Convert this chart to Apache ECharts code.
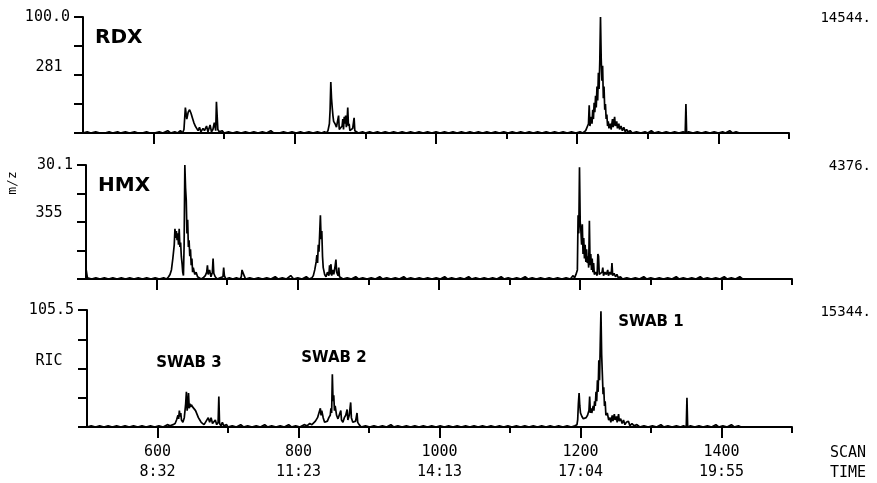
<!DOCTYPE html>
<html>
<head>
<meta charset="utf-8">
<script src="https://cdn.jsdelivr.net/npm/echarts@6/dist/echarts.min.js"></script>
<style>html,body{margin:0;background:#fff}#chart{width:877px;height:483px}</style>
</head>
<body>
<div id="chart"></div>
<script>
// mass chromatograms, [scan, % of full scale]
var rdx = [[500,0],[506,1],[511,0],[518,1],[524,0],[531,0],[537,1],[542,0],[549,1],[553,0],[560,1],[566,0],[573,1],[578,0],[584,0],[590,1],[595,0],[601,0],[608,1],[613,0],[620,2],[624,0],[630,1],[634,0],[638,2],[641,0],
  [643,3],[645,22],[647,12],[649,18],[651,20],[653,17],[655,13],[657,9],[659,6],[661,4],[663,2],[665,5],[667,1],[670,4],[672,2],[675,6],[677,1],[680,7],[682,1],[684,3],[686,9],[688,2],[689,27],[691,3],[693,1],
  [697,2],[700,0],[706,1],[712,0],[718,1],[724,0],[730,1],[736,0],[742,1],[748,0],[754,1],[760,0],[766,2],[770,0],[778,0],[784,1],[790,0],[796,1],[802,0],[808,1],[813,0],[820,1],[826,0],[832,1],[838,0],[842,1],[845,0],
  [847,2],[849,8],[850,20],[851,44],[852,30],[853,22],[854,15],[855,10],[857,8],[859,5],[861,4],[862,15],[863,3],[865,2],[867,6],[868,12],[869,3],[870,14],[871,8],[872,15],[873,5],[874,10],[875,22],[876,6],[877,8],[878,2],[880,1],[882,4],[884,13],[885,2],[887,1],[890,0],
  [896,1],[900,0],[906,1],[911,0],[917,1],[922,0],[928,1],[934,0],[940,1],[946,0],[952,1],[958,0],[964,1],[970,0],[976,1],[982,0],[988,1],[994,0],[1000,1],[1006,0],[1012,1],[1018,0],[1024,1],[1030,0],[1036,1],[1042,0],[1048,1],[1054,0],[1060,1],[1066,0],[1072,1],[1078,0],[1084,1],[1090,0],[1096,1],[1102,0],[1108,1],[1114,0],[1120,1],[1126,0],[1132,1],[1138,0],[1144,1],[1150,0],[1156,1],[1162,0],[1168,1],[1174,0],[1180,1],[1186,0],[1192,1],[1198,0],[1204,1],[1208,0],[1212,2],
  [1214,3],[1216,8],[1217,24],[1218,6],[1219,10],[1220,14],[1221,8],[1222,20],[1223,12],[1224,26],[1225,18],[1226,32],[1227,22],[1228,40],[1229,28],[1230,52],[1231,38],[1232,62],[1233,100],[1234,64],[1235,45],[1236,58],[1237,30],[1238,40],[1239,20],[1240,25],[1241,12],[1242,16],[1243,6],[1244,10],[1245,4],[1247,8],[1248,3],[1250,12],[1251,5],[1253,14],[1254,6],[1256,10],[1257,4],[1259,8],[1260,3],[1262,6],[1264,2],[1266,5],[1268,1],[1270,3],[1272,1],[1275,2],[1278,0],
  [1284,1],[1290,0],[1296,1],[1300,0],[1305,2],[1309,0],[1315,1],[1320,0],[1326,1],[1332,0],[1338,1],[1344,0],[1350,1],[1353,0],[1354,25],[1355,0],[1358,1],[1364,0],[1370,1],[1376,0],[1382,1],[1388,0],[1394,1],[1400,0],[1406,1],[1410,0],[1416,2],[1420,0],[1425,1],[1430,0]];

var hmx = [[500,9],[502,1],[508,0],[514,1],[520,0],[526,1],[532,0],[538,1],[544,0],[550,1],[556,0],[562,1],[568,0],[574,1],[580,0],[586,1],[592,0],[598,1],[604,0],[610,1],[614,0],
  [617,2],[619,4],[621,8],[623,18],[625,30],[626,44],[627,36],[628,42],[629,34],[630,40],[631,30],[632,44],[633,28],[634,32],[635,20],[636,14],[637,6],[638,3],[639,30],[640,100],[641,80],[642,69],[643,40],[644,52],[645,28],[646,34],[647,20],[648,26],[649,12],[650,18],[651,6],[652,10],[654,4],[656,6],[658,2],[660,1],[663,0],
  [666,1],[669,3],[671,6],[672,12],[673,4],[675,8],[677,2],[679,6],[680,18],[681,5],[683,2],[686,0],[690,1],[694,2],[695,10],[696,3],[698,0],[703,1],[708,0],[713,1],[718,0],[720,2],[721,8],[722,6],[724,3],[726,0],[732,1],[738,0],[744,1],[750,0],[756,1],[762,0],[768,2],[772,0],[778,1],[784,0],[790,3],[794,0],[800,1],[806,0],[812,2],[816,0],[820,1],
  [822,3],[824,8],[826,15],[827,21],[828,14],[829,30],[830,24],[831,40],[832,56],[833,35],[834,42],[835,20],[836,10],[838,4],[840,2],[842,6],[844,3],[845,12],[846,4],[847,13],[848,3],[850,8],[851,4],[853,12],[854,17],[855,6],[857,3],[858,10],[859,2],[861,1],[864,0],
  [870,1],[876,0],[882,2],[886,0],[892,1],[898,0],[904,1],[910,0],[916,2],[920,0],[926,1],[932,0],[938,1],[944,0],[950,2],[954,0],[960,1],[966,0],[972,1],[978,0],[984,1],[990,0],[996,1],[1002,0],[1008,2],[1012,0],[1018,1],[1024,0],[1030,1],[1036,0],[1042,2],[1046,0],[1052,1],[1058,0],[1064,1],[1070,0],[1076,1],[1082,0],[1088,2],[1092,0],[1098,1],[1104,0],[1110,1],[1116,0],[1122,2],[1126,0],[1132,1],[1138,0],[1144,1],[1150,0],[1156,1],[1162,0],[1168,1],[1174,0],[1180,1],[1186,0],[1190,3],[1192,1],
  [1194,4],[1196,8],[1197,56],[1198,40],[1199,98],[1200,50],[1201,42],[1202,30],[1203,48],[1204,22],[1205,36],[1206,18],[1207,30],[1208,15],[1209,26],[1210,14],[1211,20],[1212,10],[1213,51],[1214,12],[1215,22],[1216,8],[1217,18],[1218,6],[1219,14],[1220,4],[1222,6],[1224,3],[1225,22],[1226,20],[1227,4],[1229,3],[1231,6],[1232,10],[1233,3],[1235,6],[1237,4],[1239,8],[1240,3],[1242,6],[1244,4],[1245,14],[1246,3],[1248,5],[1250,2],[1252,4],[1254,1],[1257,2],[1260,0],
  [1266,1],[1272,0],[1278,1],[1284,0],[1290,2],[1294,0],[1300,1],[1306,0],[1312,1],[1318,0],[1324,1],[1330,0],[1336,2],[1340,0],[1346,1],[1352,0],[1358,1],[1364,0],[1370,2],[1374,0],[1380,1],[1386,0],[1392,1],[1398,0],[1404,2],[1408,0],[1414,1],[1420,0],[1426,2],[1430,0]];

var ric = [[500,0],[506,1],[512,0],[518,1],[524,0],[530,1],[536,0],[542,1],[548,0],[554,1],[560,0],[566,1],[572,0],[578,1],[584,0],[590,1],[596,0],[602,1],[608,0],[614,2],[618,1],[622,2],[625,3],
  [627,6],[629,10],[630,7],[631,14],[632,9],[633,12],[634,6],[636,4],[638,8],[640,20],[641,30],[642,14],[643,18],[644,29],[645,16],[646,20],[647,17],[648,19],[649,18],[650,17],[652,17],[654,14],[656,11],[658,8],[660,6],[662,4],[664,3],[666,2],[668,4],[670,3],[672,8],[673,9],[674,4],[676,8],[678,3],[680,2],[682,6],[684,2],[686,4],[687,26],[688,3],[690,1],[692,4],[694,1],[698,2],[700,0],
  [706,1],[712,0],[718,2],[722,0],[728,1],[734,0],[740,1],[746,0],[752,2],[756,0],[762,1],[768,0],[774,1],[780,0],[786,2],[790,0],[796,1],[802,0],[808,2],[812,1],[816,3],[819,2],
  [821,3],[824,5],[827,8],[829,12],[831,16],[832,10],[833,14],[835,8],[837,4],[839,3],[841,5],[843,8],[845,10],[846,16],[847,12],[848,45],[849,22],[850,27],[851,14],[852,18],[854,10],[856,7],[858,8],[860,14],[861,6],[863,4],[865,8],[867,10],[869,15],[870,6],[872,10],[874,21],[875,8],[877,4],[879,3],[881,5],[883,12],[884,4],[886,2],[889,0],
  [895,1],[901,0],[907,1],[913,0],[919,1],[925,0],[931,2],[935,0],[941,1],[947,0],[953,1],[959,0],[965,1],[971,0],[977,1],[983,0],[989,1],[995,0],[1001,1],[1007,0],[1013,1],[1019,0],[1025,1],[1031,0],[1037,1],[1043,0],[1049,1],[1055,0],[1061,1],[1067,0],[1073,1],[1079,0],[1085,1],[1091,0],[1097,1],[1103,0],[1109,1],[1115,0],[1121,1],[1127,0],[1133,1],[1139,0],[1145,1],[1151,0],[1157,1],[1163,0],[1169,1],[1175,0],[1181,1],[1187,0],[1192,1],[1195,2],
  [1196,6],[1197,20],[1198,29],[1199,18],[1200,12],[1202,9],[1204,7],[1206,6],[1208,8],[1210,10],[1212,14],[1213,26],[1214,12],[1215,16],[1216,12],[1218,18],[1219,14],[1220,22],[1221,18],[1222,30],[1223,22],[1224,40],[1225,30],[1226,57],[1227,40],[1228,70],[1229,99],[1230,62],[1231,45],[1232,28],[1233,34],[1234,18],[1235,22],[1236,10],[1238,12],[1240,6],[1242,8],[1243,4],[1245,10],[1246,5],[1248,11],[1249,6],[1251,9],[1252,4],[1254,11],[1255,5],[1257,7],[1259,3],[1261,6],[1263,2],[1265,4],[1268,5],[1270,1],[1273,3],[1276,1],[1280,2],[1284,0],
  [1290,1],[1296,0],[1302,1],[1308,0],[1314,2],[1318,0],[1324,1],[1330,0],[1336,1],[1342,0],[1346,1],[1350,0],[1351,25],[1352,0],[1356,1],[1362,0],[1368,1],[1374,0],[1380,1],[1386,0],[1392,2],[1396,0],[1402,1],[1408,0],[1414,2],[1418,0],[1424,1],[1428,0]];

var traces = [rdx, hmx, ric];
var panelNames = ['RDX', 'HMX', ''];
var massLabels = ['281', '355', 'RIC'];
var scaleLabels = ['100.0', '30.1', '105.5'];
var countLabels = ['14544.', '4376.', '15344.'];
var scanTicks = [600, 800, 1000, 1200, 1400];
var timeLabels = ['8:32', '11:23', '14:13', '17:04', '19:55'];
var minorTicks = [700, 900, 1100, 1300, 1500];
var swabNames = ['SWAB 3', 'SWAB 2', 'SWAB 1'];

var mono = '"DejaVu Sans Mono", monospace';
var gridPos = [
  {left: 83, top: 17, width: 706, height: 116},
  {left: 86, top: 165, width: 706, height: 114},
  {left: 87, top: 310, width: 705, height: 117}
];

var grids = [], xAxes = [], yAxes = [], series = [], graphics = [];
for (var i = 0; i < 3; i++) {
  grids.push(gridPos[i]);
  var last = (i == 2);
  xAxes.push({
    type: 'value', gridIndex: i, min: 500, max: 1500, position: 'bottom',
    axisLine: {lineStyle: {color: '#000', width: 2}},
    axisTick: {customValues: scanTicks, length: 11, lineStyle: {color: '#000', width: 2}},
    axisLabel: {
      show: last, customValues: scanTicks, margin: 15, lineHeight: 20,
      color: '#000', fontFamily: mono, fontSize: 15,
      formatter: function (v) { return v + '\n' + timeLabels[scanTicks.indexOf(v)]; }
    },
    splitLine: {show: false}
  });
  xAxes.push({
    type: 'value', gridIndex: i, min: 500, max: 1500, position: 'bottom',
    axisLine: {show: false},
    axisTick: {customValues: minorTicks, length: 6, lineStyle: {color: '#000', width: 2}},
    axisLabel: {show: false},
    splitLine: {show: false}
  });
  yAxes.push({
    type: 'value', gridIndex: i, min: 0, max: 100, interval: 25,
    axisLine: {show: true, lineStyle: {color: '#000', width: 2}},
    axisTick: {show: true, length: 9, lineStyle: {color: '#000', width: 2}},
    axisLabel: {
      margin: 13, color: '#000', fontFamily: mono, fontSize: 15,
      formatter: (function (lbl) { return function (v) { return v == 100 ? lbl : ''; }; })(scaleLabels[i])
    },
    splitLine: {show: false}
  });
  series.push({
    type: 'line', xAxisIndex: i * 2, yAxisIndex: i, data: traces[i],
    showSymbol: false, symbol: 'none', z: 5,
    lineStyle: {color: '#000', width: 1.7}
  });
  if (panelNames[i]) {
    graphics.push({type: 'text', left: gridPos[i].left + 12, top: gridPos[i].top + 11,
      style: {text: panelNames[i], font: 'bold 20px "DejaVu Sans"', fill: '#000'}});
  }
  graphics.push({type: 'text', x: 49, y: [67, 213, 361][i],
    style: {text: massLabels[i], font: '15px ' + mono, fill: '#000', textAlign: 'center', textVerticalAlign: 'middle'}});
  graphics.push({type: 'text', x: 871, y: [18, 166, 312][i],
    style: {text: countLabels[i], font: '14px ' + mono, fill: '#000', textAlign: 'right', textVerticalAlign: 'middle'}});
}

var swabPos = [[189, 363], [334, 358], [651, 322]];
for (var k = 0; k < swabNames.length; k++) {
  graphics.push({type: 'text', x: swabPos[k][0], y: swabPos[k][1],
    style: {text: swabNames[k], font: 'bold 15px "DejaVu Sans"', fill: '#000', textAlign: 'center', textVerticalAlign: 'middle'}});
}
graphics.push({type: 'text', x: 848, y: 453,
  style: {text: 'SCAN', font: '15px ' + mono, fill: '#000', textAlign: 'center', textVerticalAlign: 'middle'}});
graphics.push({type: 'text', x: 848, y: 473,
  style: {text: 'TIME', font: '15px ' + mono, fill: '#000', textAlign: 'center', textVerticalAlign: 'middle'}});
graphics.push({type: 'text', x: 13, y: 183, rotation: Math.PI / 2,
  style: {text: 'm/z', font: '13px ' + mono, fill: '#000', textAlign: 'center', textVerticalAlign: 'middle'}});

var option = {
  animation: false,
  backgroundColor: '#fff',
  grid: grids,
  xAxis: xAxes,
  yAxis: yAxes,
  series: series,
  graphic: graphics
};
var chart = echarts.init(document.getElementById('chart'));
chart.setOption(option);
</script>
</body>
</html>
